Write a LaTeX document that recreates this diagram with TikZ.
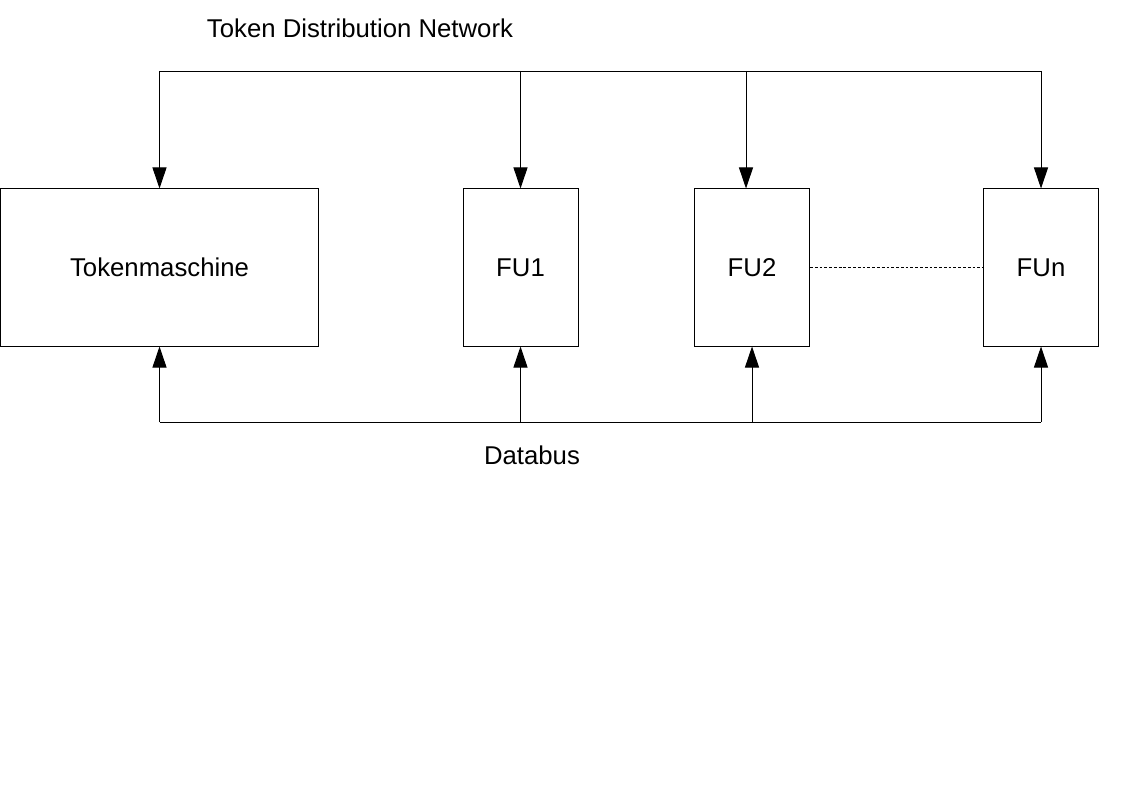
\documentclass[tikz,border=0pt]{standalone}
\usepackage{fontspec}
\setmainfont{Liberation Sans}
\usetikzlibrary{arrows.meta,positioning,calc}

\begin{document}
\begin{tikzpicture}[
    x=0.025cm, y=-0.025cm,
    box/.style={rectangle, draw, line width=0.7pt, minimum height=3.925cm, font=\fontsize{18.3}{22}\selectfont, inner sep=0pt},
    unit/.style={box, minimum width=2.875cm},
    arrow/.style={-{Triangle[length=15pt, width=10pt]}, line width=0.7pt},
    bus/.style={line width=0.7pt},
    label/.style={font=\fontsize{18.3}{22}\selectfont}
]
    \useasboundingbox (0,0) rectangle (1123,794);

    % Token machine (left)
    \node[box, minimum width=7.925cm] (tok) at (159.5,267.5) {Tokenmaschine};

    % Functional units
    \node[unit] (fu1) at (520.5,267.5) {FU1};
    \node[unit] (fu2) at (752,267.5) {FU2};
    \node[unit] (fun) at (1041,267.5) {FUn};

    % Bus levels
    \coordinate (tdn) at (0,71);
    \coordinate (db) at (0,422);
    \coordinate (fu2 in) at ($(fu2.north)+(-6,0)$);

    % Token Distribution Network (top)
    \draw[bus] (tdn -| tok.north) -- (tdn -| fun.north);
    \draw[arrow] (tdn -| tok.north) -- (tok.north);
    \draw[arrow] (tdn -| fu1.north) -- (fu1.north);
    \draw[arrow] (tdn -| fu2 in) -- (fu2 in);
    \draw[arrow] (tdn -| fun.north) -- (fun.north);
    \node[label] (tdnlabel) at (360,28) {Token Distribution Network};

    % Databus (bottom)
    \draw[bus] (db -| tok.south) -- (db -| fun.south);
    \draw[arrow] (db -| tok.south) -- (tok.south);
    \draw[arrow] (db -| fu1.south) -- (fu1.south);
    \draw[arrow] (db -| fu2.south) -- (fu2.south);
    \draw[arrow] (db -| fun.south) -- (fun.south);
    \node[label] (dblabel) at (532,455) {Databus};

    % more units in between (dotted)
    \draw[line width=0.5pt, dash pattern=on 2pt off 1.4pt] (fu2.east) -- (fun.west);
\end{tikzpicture}
\end{document}
